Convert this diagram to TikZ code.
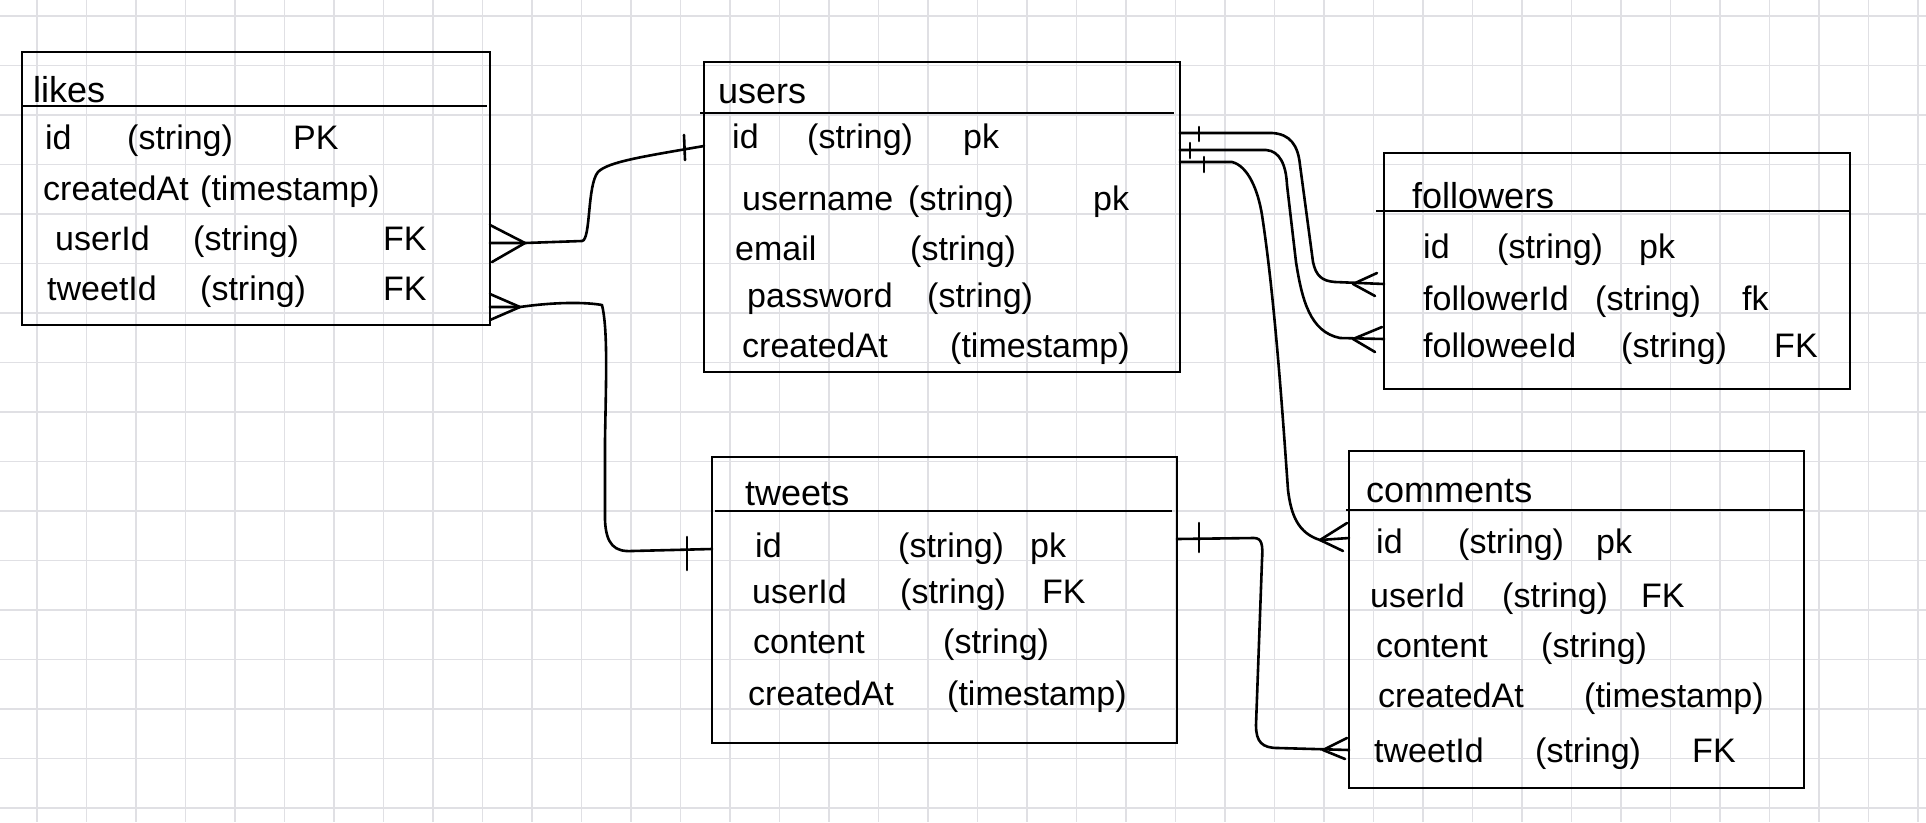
\documentclass[tikz,border=0pt]{standalone}
\usepackage{fontspec}
\setmainfont{Liberation Sans}
\usetikzlibrary{calc}
\definecolor{gridgray}{RGB}{224,224,228}
\begin{document}
\begin{tikzpicture}[x=1pt,y=-1pt,
  gridline/.style={draw=gridgray, line width=1.8pt},
  tbl/.style={draw, line width=2.8pt, inner sep=0pt, outer sep=0pt, rectangle},
  hdr/.style={line width=2.8pt},
  fld/.style={anchor=base west, inner sep=0pt, font=\fontsize{34}{40}\selectfont},
  ttl/.style={anchor=base west, inner sep=0pt, font=\fontsize{36}{42}\selectfont},
  conn/.style={line width=2.6pt, line cap=round, line join=round}]

% page and background
\useasboundingbox (0,0) rectangle (1926,822);
\fill[white] (0,0) rectangle (1926,822);

% squared paper
\foreach \k in {0,...,38} \draw[gridline] ({37+49.5*\k},0) -- ({37+49.5*\k},822);
\foreach \k in {0,...,16} \draw[gridline] (0,{16+49.5*\k}) -- (1926,{16+49.5*\k});

% tables
\node[tbl, minimum width=468, minimum height=273] (likes)     at (256,188.5) {};
\node[tbl, minimum width=476, minimum height=310] (users)     at (942,217) {};
\node[tbl, minimum width=466, minimum height=236] (followers) at (1617,271) {};
\node[tbl, minimum width=465, minimum height=286] (tweets)    at (944.5,600) {};
\node[tbl, minimum width=455, minimum height=337] (comments)  at (1576.5,619.5) {};

% header rules
\draw[hdr] (likes.west |- 0,106) -- ([xshift=-3pt]likes.east |- 0,106);
\draw[hdr] ([xshift=-4pt]users.west |- 0,113) -- ([xshift=-6pt]users.east |- 0,113);
\draw[hdr] ([xshift=-8pt]followers.west |- 0,211) -- (followers.east |- 0,211);
\draw[hdr] ([xshift=3pt]tweets.west |- 0,511) -- ([xshift=-5pt]tweets.east |- 0,511);
\draw[hdr] ([xshift=-3pt]comments.west |- 0,510) -- (comments.east |- 0,510);

% likes
\node[ttl] (likesT) at (33,102) {likes};
\node[fld] (lk1a) at (45,149)  {id};
\node[fld] (lk1b) at (127,149) {(string)};
\node[fld] (lk1c) at (293,149) {PK};
\node[fld] (lk2a) at (43,200)  {createdAt};
\node[fld] (lk2b) at (200,200) {(timestamp)};
\node[fld] (lk3a) at (55,250)  {userId};
\node[fld] (lk3b) at (193,250) {(string)};
\node[fld] (lk3c) at (383,250) {FK};
\node[fld] (lk4a) at (47,300)  {tweetId};
\node[fld] (lk4b) at (200,300) {(string)};
\node[fld] (lk4c) at (383,300) {FK};

% users
\node[ttl] (usersT) at (718,103) {users};
\node[fld] (us1a) at (732,148)  {id};
\node[fld] (us1b) at (807,148)  {(string)};
\node[fld] (us1c) at (963,148)  {pk};
\node[fld] (us2a) at (742,210)  {username};
\node[fld] (us2b) at (908,210)  {(string)};
\node[fld] (us2c) at (1093,210) {pk};
\node[fld] (us3a) at (735,260)  {email};
\node[fld] (us3b) at (910,260)  {(string)};
\node[fld] (us4a) at (747,307)  {password};
\node[fld] (us4b) at (927,307)  {(string)};
\node[fld] (us5a) at (742,357)  {createdAt};
\node[fld] (us5b) at (950,357)  {(timestamp)};

% followers
\node[ttl] (followersT) at (1412,208) {followers};
\node[fld] (fo1a) at (1423,258) {id};
\node[fld] (fo1b) at (1497,258) {(string)};
\node[fld] (fo1c) at (1639,258) {pk};
\node[fld] (fo2a) at (1423,310) {followerId};
\node[fld] (fo2b) at (1595,310) {(string)};
\node[fld] (fo2c) at (1742,310) {fk};
\node[fld] (fo3a) at (1423,357) {followeeId};
\node[fld] (fo3b) at (1621,357) {(string)};
\node[fld] (fo3c) at (1774,357) {FK};

% tweets
\node[ttl] (tweetsT) at (745,505) {tweets};
\node[fld] (tw1a) at (755,557)  {id};
\node[fld] (tw1b) at (898,557)  {(string)};
\node[fld] (tw1c) at (1030,557) {pk};
\node[fld] (tw2a) at (752,603)  {userId};
\node[fld] (tw2b) at (900,603)  {(string)};
\node[fld] (tw2c) at (1042,603) {FK};
\node[fld] (tw3a) at (753,653)  {content};
\node[fld] (tw3b) at (943,653)  {(string)};
\node[fld] (tw4a) at (748,705)  {createdAt};
\node[fld] (tw4b) at (947,705)  {(timestamp)};

% comments
\node[ttl] (commentsT) at (1366,502) {comments};
\node[fld] (co1a) at (1376,553) {id};
\node[fld] (co1b) at (1458,553) {(string)};
\node[fld] (co1c) at (1596,553) {pk};
\node[fld] (co2a) at (1370,607) {userId};
\node[fld] (co2b) at (1502,607) {(string)};
\node[fld] (co2c) at (1641,607) {FK};
\node[fld] (co3a) at (1376,657) {content};
\node[fld] (co3b) at (1541,657) {(string)};
\node[fld] (co4a) at (1378,707) {createdAt};
\node[fld] (co4b) at (1584,707) {(timestamp)};
\node[fld] (co5a) at (1374,762) {tweetId};
\node[fld] (co5b) at (1535,762) {(string)};
\node[fld] (co5c) at (1692,762) {FK};

% likes.userId  >----|  users.id
\coordinate (a1) at (likes.east |- 0,243);
\coordinate (a2) at (users.west |- 0,146);
\draw[conn] (a1) -- ++(35,0) coordinate (a1v) -- (582,241)
  .. controls (591,240) and (587,185) .. (598,172)
  .. controls (608,162) and (640,157) .. (a2);
\draw[conn] ($(a1)+(0,-18)$) -- (a1v) -- ($(a1)+(2,19)$);
\draw[conn] ($(a2)+(-20,-11)$) -- ($(a2)+(-19,14)$);

% likes.tweetId  >----|  tweets.id
\coordinate (b1) at (likes.east |- 0,307);
\coordinate (b2) at (tweets.west |- 0,549);
\draw[conn] (b1) -- ++(30,0) coordinate (b1v)
  .. controls (555,302) and (585,302) .. (602,305)
  .. controls (608,330) and (606,380) .. (605,440) -- (605,520)
  .. controls (606,545) and (615,552) .. (632,551) -- (b2);
\draw[conn] ($(b1)+(0,-13)$) -- (b1v) -- ($(b1)+(0,13)$);
\draw[conn] ($(b2)+(-25,-12)$) -- ($(b2)+(-25,21)$);

% users.id  |----<  followers.followerId
\coordinate (c1) at (users.east |- 0,133);
\coordinate (c2) at (followers.west |- 0,284);
\draw[conn] (c1) -- (1272,133)
  .. controls (1290,134) and (1298,145) .. (1300,165) -- (1313,262)
  .. controls (1316,276) and (1322,281) .. (1335,282) -- (c2);
\draw[conn] ($(c2)+(-7,-11)$) -- ($(c2)+(-31,0)$) -- ($(c2)+(-9,12)$);
\draw[conn] ($(c1)+(19,-6)$) -- ($(c1)+(19,8)$);

% users.id  |----<  followers.followeeId
\coordinate (d1) at (users.east |- 0,150);
\coordinate (d2) at (followers.west |- 0,339);
\draw[conn] (d1) -- (1266,150)
  .. controls (1280,151) and (1286,165) .. (1287,185) -- (1296,262)
  .. controls (1302,300) and (1310,332) .. (1340,338) -- (d2);
\draw[conn] ($(d2)+(-2,-12)$) -- ($(d2)+(-31,0)$) -- ($(d2)+(-9,13)$);
\draw[conn] ($(d1)+(10,-7)$) -- ($(d1)+(10,8)$);

% users.id  |----<  comments.userId
\coordinate (e1) at (users.east |- 0,162);
\coordinate (e2) at (comments.west |- 0,538);
\draw[conn] (e1) -- (1232,162)
  .. controls (1248,166) and (1258,190) .. (1262,215)
  .. controls (1275,300) and (1283,420) .. (1288,490)
  .. controls (1291,515) and (1298,533) .. (1320,540) -- (e2);
\draw[conn] ($(e2)+(-2,-15)$) -- ($(e2)+(-29,2)$) -- ($(e2)+(-6,13)$);
\draw[conn] ($(e1)+(24,-5)$) -- ($(e1)+(24,10)$);

% tweets.id  |----<  comments.tweetId
\coordinate (f1) at (tweets.east |- 0,539);
\coordinate (f2) at (comments.west |- 0,750);
\draw[conn] (f1) -- (1254,538)
  .. controls (1262,538) and (1263,545) .. (1262,560) -- (1256,725)
  .. controls (1256,742) and (1262,748) .. (1278,748) -- (f2);
\draw[conn] ($(f2)+(-2,-12)$) -- ($(f2)+(-26,0)$) -- ($(f2)+(-4,9)$);
\draw[conn] ($(f1)+(22,-16)$) -- ($(f1)+(22,13)$);

\end{tikzpicture}
\end{document}
